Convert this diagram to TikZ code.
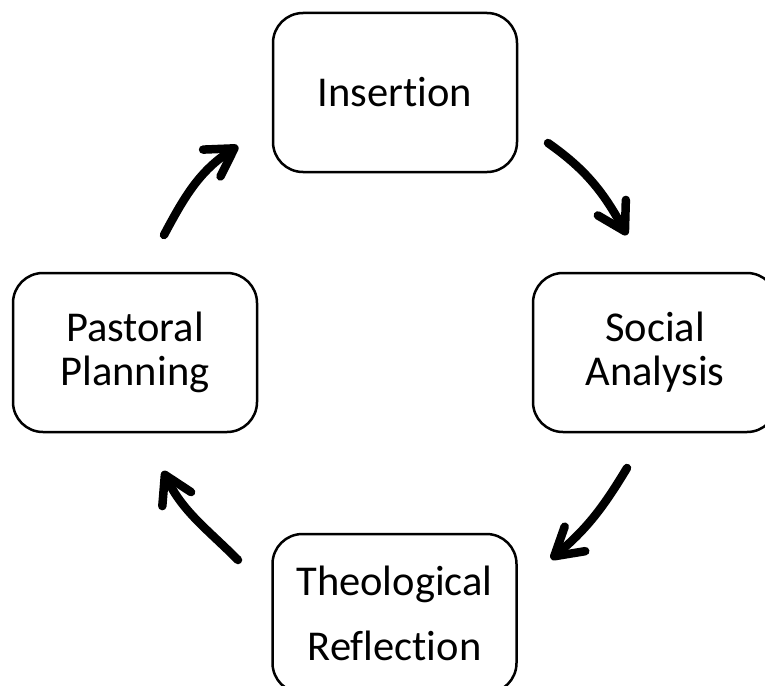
\documentclass[tikz,border=0pt]{standalone}
\usepackage{fontspec}
\setmainfont{Carlito}[Ligatures=NoCommon]
\usetikzlibrary{arrows.meta}
\begin{document}
\begin{tikzpicture}[x=1pt,y=-1pt,
  stagebox/.style={draw=black, line width=2.5pt, rounded corners=30pt,
    minimum width=244pt, minimum height=159pt, inner sep=0pt, align=center,
    font={\fontsize{42.5}{44}\selectfont}},
  cyclearrow/.style={line width=8.5pt, line cap=round,
    -{Straight Barb[length=27pt,width=32pt,round]}}]
\useasboundingbox (0,0) rectangle (765,685);
\clip (0,0) rectangle (765,685);
\fill[white] (0,0) rectangle (765,685);
\node[stagebox] (ins) at (395,92.5) {Insertion};
\node[stagebox] (soc) at (655,352.5) {Social\\Analysis};
\node[stagebox] (pas) at (135,352.5) {Pastoral\\Planning};
\node[stagebox, font={\fontsize{42.5}{65}\selectfont}] (theo) at (394.5,613.5) {Theological\\Reflection};
\coordinate (a1s) at (548,143);
\coordinate (a1e) at (627,235);
\coordinate (a2s) at (627,468);
\coordinate (a2e) at (551,559);
\coordinate (a3s) at (164,235);
\coordinate (a3e) at (238,146);
\coordinate (a4s) at (238,560);
\coordinate (a4e) at (163,471);
\draw[cyclearrow] (a1s) to[out=-35,in=119] (a1e);
\draw[cyclearrow] (a2s) to[out=-121,in=40] (a2e);
\draw[cyclearrow] (a3s) to[out=62,in=-147] (a3e);
\draw[cyclearrow] (a4s) to[out=135,in=-64] (a4e);
\end{tikzpicture}
\end{document}
